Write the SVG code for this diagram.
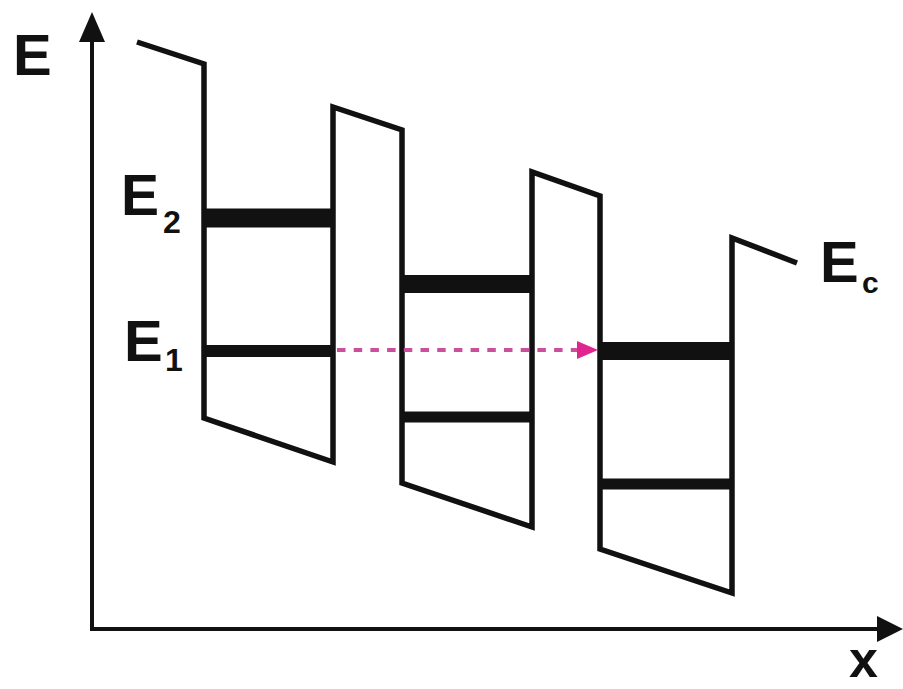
<svg xmlns="http://www.w3.org/2000/svg" width="903" height="689" viewBox="0 0 903 689">
<style>
.band{fill:none;stroke:#111;stroke-width:5.5;stroke-linejoin:miter}
.axis{fill:none;stroke:#111;stroke-width:4}
.lvl{stroke:#111}
.lbl{font-family:"Liberation Sans",Arial,sans-serif;font-weight:bold;fill:#111}
</style>
<rect width="903" height="689" fill="#fff"/>
<g id="axes">
<line class="axis" x1="92" y1="629" x2="92" y2="38"/>
<polygon points="92,12 79,42 105,42" fill="#111"/>
<line class="axis" x1="90" y1="629" x2="880" y2="629"/>
<polygon points="903,629 877,616 877,642" fill="#111"/>
<text class="lbl" x="13" y="75" font-size="58">E</text>
<text class="lbl" x="849" y="677" font-size="52">x</text>
</g>
<g id="band">
<polyline class="band" points="137,42 204,64 204,418 333,462 333,107 402,130 402,483 532,527 532,172 600,196 600,549 732,593 732,238 797,263"/>
<text class="lbl" x="820" y="282" font-size="58">E</text>
<text class="lbl" x="862" y="293" font-size="30">c</text>
</g>
<g id="levels">
<line class="lvl" x1="204" y1="218" x2="333" y2="218" stroke-width="19"/>
<line class="lvl" x1="204" y1="351" x2="333" y2="351" stroke-width="12"/>
<line class="lvl" x1="402" y1="284" x2="532" y2="284" stroke-width="18"/>
<line class="lvl" x1="402" y1="417" x2="532" y2="417" stroke-width="11"/>
<line class="lvl" x1="600" y1="351" x2="732" y2="351" stroke-width="18"/>
<line class="lvl" x1="600" y1="484" x2="732" y2="484" stroke-width="11"/>
<text class="lbl" x="121" y="215" font-size="57">E</text>
<text class="lbl" x="163" y="233" font-size="32">2</text>
<text class="lbl" x="124" y="361" font-size="58">E</text>
<text class="lbl" x="165" y="371" font-size="32">1</text>
</g>
<g id="connectors">
<line x1="337" y1="350" x2="580" y2="350" stroke="#cc4f9c" stroke-width="4" stroke-dasharray="8.5 8.2"/>
<polygon points="598,350 577,341 577,359" fill="#e02590"/>
</g>
</svg>
